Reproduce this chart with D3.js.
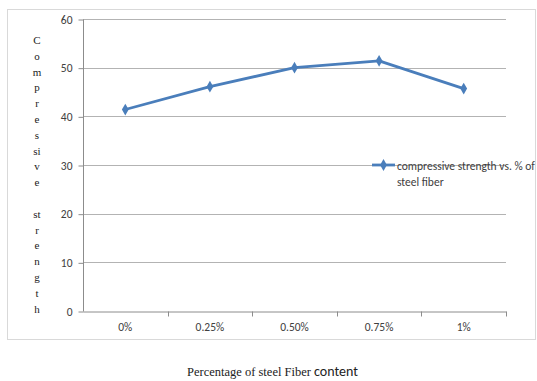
<!DOCTYPE html>
<html><head><meta charset="utf-8">
<script src="https://cdn.jsdelivr.net/npm/d3@7"></script>
<style>body{margin:0;background:#fff}svg{display:block}</style>
</head><body>
<script>
const categories = ["0%", "0.25%", "0.50%", "0.75%", "1%"];
const strength = [41.4, 46.1, 50.0, 51.4, 45.7];
const yTicks = [0, 10, 20, 30, 40, 50, 60];
const yTitleLines = ["C","o","m","p","r","e","s","si","v","e","","st","r","e","n","g","t","h"];
const legendLines = ["compressive strength vs. % of", "steel fiber"];
const xTitleSerif = "Percentage of steel Fiber ";
const xTitleSans = "content";

const W = 537, H = 381;
const svg = d3.select("body").append("svg").attr("width", W).attr("height", H);
const sans = "Carlito, 'Open Sans', 'Liberation Sans', sans-serif";
const serif = "'Liberation Serif', 'DejaVu Serif', serif";

svg.append("rect").attr("x", 7.5).attr("y", 9.5).attr("width", 528).attr("height", 330)
  .attr("fill", "none").attr("stroke", "#d9d9d9");

const x = d3.scaleBand().domain(categories).range([83, 506]);
const y = d3.scaleLinear().domain([0, 60]).range([311, 19]);

// gridlines
svg.append("g").selectAll("line").data(yTicks.filter(d => d > 0)).join("line")
  .attr("x1", 83).attr("x2", 506).attr("y1", d => Math.round(y(d)) + 0.5).attr("y2", d => Math.round(y(d)) + 0.5)
  .attr("stroke", "#b3b3b3").attr("stroke-width", 1);

// y axis
const ya = svg.append("g").attr("transform", "translate(83.5,0.5)")
  .call(d3.axisLeft(y).tickValues(yTicks).tickSize(5).tickPadding(6).tickFormat(d3.format("d")));
ya.select(".domain").attr("stroke", "#8c8c8c").attr("d", `M0,${Math.round(y(60))}V${Math.round(y(0))}`);
ya.selectAll(".tick line").attr("stroke", "#8c8c8c");
ya.selectAll("text").attr("font-family", sans).attr("font-size", 11.5).attr("fill", "#404040");

// x axis
const xa = svg.append("g").attr("transform", `translate(0,${Math.round(y(0)) + 0.5})`)
  .call(d3.axisBottom(x).tickSize(0).tickPadding(11));
xa.select(".domain").attr("stroke", "#8c8c8c");
xa.selectAll(".tick text").attr("font-family", sans).attr("font-size", 11.5).attr("fill", "#404040");
// category boundary ticks
xa.append("g").selectAll("line").data(categories).join("line")
  .attr("x1", d => Math.round(x(d) + x.bandwidth()) + 0.5).attr("x2", d => Math.round(x(d) + x.bandwidth()) + 0.5)
  .attr("y1", 0).attr("y2", 5).attr("stroke", "#8c8c8c");

// line
const cx = d => x(d) + x.bandwidth() / 2;
const line = d3.line().x((d, i) => cx(categories[i])).y(d => y(d));
svg.append("path").datum(strength).attr("d", line).attr("fill", "none")
  .attr("stroke", "#4a7ebb").attr("stroke-width", 2.8).attr("stroke-linejoin", "round");
const diamond = d3.symbol().type(d3.symbolDiamond).size(40);
svg.append("g").selectAll("path").data(strength).join("path")
  .attr("d", diamond).attr("transform", (d, i) => `translate(${cx(categories[i])},${y(d)})`)
  .attr("fill", "#4a7ebb");

// legend
const lg = svg.append("g");
lg.append("line").attr("x1", 372).attr("x2", 395).attr("y1", 165).attr("y2", 165)
  .attr("stroke", "#4a7ebb").attr("stroke-width", 2.8);
lg.append("path").attr("d", diamond).attr("transform", "translate(383.5,165)").attr("fill", "#4a7ebb");
lg.selectAll("text").data(legendLines).join("text")
  .attr("x", 397).attr("y", (d, i) => 170 + i * 16).text(d => d)
  .attr("font-family", sans).attr("font-size", 11.5).attr("fill", "#404040");

// y title (stacked letters)
svg.append("g").selectAll("text").data(yTitleLines).join("text")
  .attr("x", 37).attr("y", (d, i) => 44 + i * 15.8).attr("text-anchor", "middle")
  .text(d => d).attr("font-family", serif).attr("font-size", 11).attr("fill", "#222");

// x title
const xt = svg.append("text").attr("x", 187).attr("y", 376).attr("fill", "#222");
xt.append("tspan").text(xTitleSerif).attr("font-family", serif).attr("font-size", 12.5);
xt.append("tspan").text(xTitleSans).attr("font-family", sans).attr("font-size", 14);
</script>
</body></html>
